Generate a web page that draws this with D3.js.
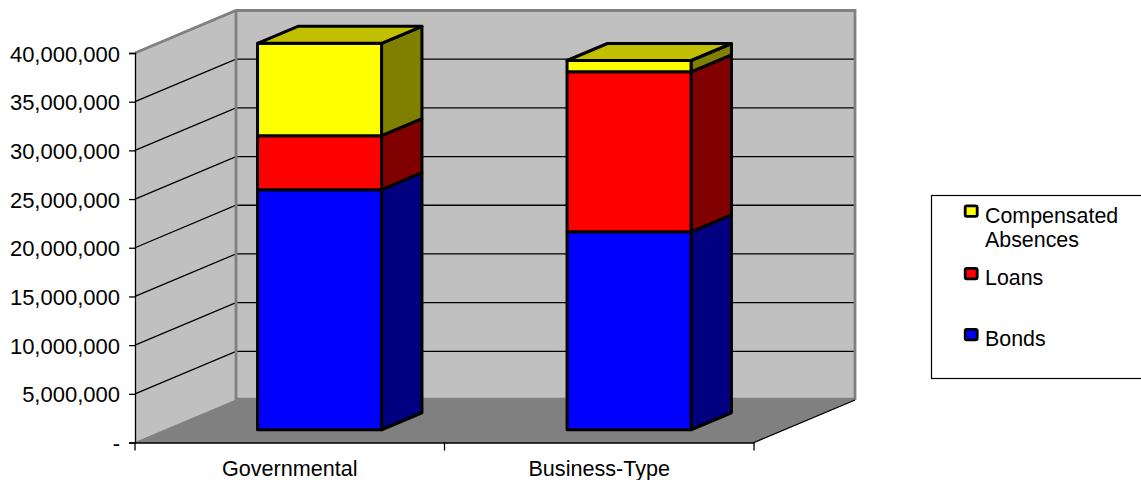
<!DOCTYPE html>
<html>
<head>
<meta charset="utf-8">
<script src="https://cdn.jsdelivr.net/npm/d3@7"></script>
<style>
  html, body { margin: 0; padding: 0; background: #fff; overflow: hidden; }
  text { font-family: "Liberation Sans", Arial, sans-serif; fill: #000; }
</style>
</head>
<body>
<script>
// chart data
var categories = ["Governmental", "Business-Type"];
var seriesNames = ["Bonds", "Loans", "Compensated Absences"];
var bonds = [24650000, 20330000];
var loans = [5550000, 16430000];
var absences = [9480000, 1160000];
var yTicks = [0, 5000000, 10000000, 15000000, 20000000, 25000000, 30000000, 35000000, 40000000];

var faceColors = ["#0000ff", "#ff0000", "#ffff00"];
var sideColors = ["#000080", "#800000", "#808000"];
var topColors = ["#0000c0", "#c00000", "#c0c000"];

var svg = d3.select("body").append("svg")
  .attr("width", 1141)
  .attr("height", 480);

var y = d3.scaleLinear().domain([0, 40000000]).range([442.5, 53]);
var x = d3.scaleBand().domain(categories).range([135, 754]).paddingInner(0).paddingOuter(0);

// depth goes from the front of the floor (0) to the back wall (1)
var depthX = d3.scaleLinear().domain([0, 1]).range([0, 101]);
var depthY = d3.scaleLinear().domain([0, 1]).range([0, -42.5]);

// project a point in chart space on to the page
function pt(px, value, depth) {
  return [px + depthX(depth), y(value) + depthY(depth)];
}
function poly(points) {
  return points.join(" ");
}

var x0 = x.range()[0], x1 = x.range()[1];
var top_v = y.domain()[1];

// back wall
svg.append("polygon")
  .attr("points", poly([pt(x0, 0, 1), pt(x1, 0, 1), pt(x1, top_v, 1), pt(x0, top_v, 1)]))
  .style("fill", "#c0c0c0");

// side wall
svg.append("polygon")
  .attr("points", poly([pt(x0, 0, 0), pt(x0, 0, 1), pt(x0, top_v, 1), pt(x0, top_v, 0)]))
  .style("fill", "#c0c0c0");

// floor
svg.append("polygon")
  .attr("points", poly([pt(x0, 0, 0), pt(x1, 0, 0), pt(x1, 0, 1), pt(x0, 0, 1)]))
  .style("fill", "#808080")
  .style("stroke", "#808080")
  .style("stroke-width", 1);

// gridlines, side wall then back wall
var gridTicks = yTicks.slice(1, -1);
svg.selectAll(".grid")
  .data(gridTicks)
  .enter().append("polyline")
  .attr("class", "grid")
  .attr("points", function(d) { return poly([pt(x0, d, 0), pt(x0, d, 1), pt(x1, d, 1)]); })
  .style("fill", "none")
  .style("stroke", "#000")
  .style("stroke-width", 1.3);

// gray wall edges
svg.append("polyline")
  .attr("points", poly([pt(x0, top_v, 0), pt(x0, top_v, 1), pt(x1, top_v, 1), pt(x1, 0, 1)]))
  .style("fill", "none")
  .style("stroke", "#808080")
  .style("stroke-width", 2.8);
svg.append("line")
  .attr("x1", pt(x0, 0, 1)[0]).attr("y1", pt(x0, 0, 1)[1])
  .attr("x2", pt(x0, top_v, 1)[0]).attr("y2", pt(x0, top_v, 1)[1])
  .style("stroke", "#808080")
  .style("stroke-width", 2.8);
svg.append("line")
  .attr("x1", pt(x0, 0, 1)[0]).attr("y1", pt(x0, 0, 1)[1] - 1)
  .attr("x2", pt(x1, 0, 1)[0]).attr("y2", pt(x1, 0, 1)[1] - 1)
  .style("stroke", "#808080")
  .style("stroke-width", 2.4);

// right edge of the floor
svg.append("line")
  .attr("x1", pt(x1, 0, 0)[0]).attr("y1", pt(x1, 0, 0)[1])
  .attr("x2", pt(x1, 0, 1)[0]).attr("y2", pt(x1, 0, 1)[1])
  .style("stroke", "#000")
  .style("stroke-width", 1.3);

// Add the y Axis
var yAxis = svg.append("g")
  .attr("transform", "translate(" + x0 + ",0)")
  .call(d3.axisLeft(y)
    .tickValues(yTicks)
    .tickSize(6)
    .tickPadding(9)
    .tickFormat(function(d) { return d === 0 ? "-" : d3.format(",")(d); }));
yAxis.selectAll("text").attr("dy", "0.37em");

// Add the x Axis, ticks sit on the band edges so they are drawn separately
var xAxis = svg.append("g")
  .attr("transform", "translate(0," + y(0) + ")")
  .call(d3.axisBottom(x).tickSize(0).tickPadding(18));

svg.selectAll(".xtick")
  .data([x0, x0 + x.bandwidth(), x1])
  .enter().append("line")
  .attr("class", "xtick")
  .attr("x1", function(d) { return d; })
  .attr("x2", function(d) { return d; })
  .attr("y1", y(0))
  .attr("y2", y(0) + 8)
  .style("stroke", "#000")
  .style("stroke-width", 1.3);

yAxis.selectAll("text").style("font-size", "22px");
xAxis.selectAll("text").style("font-size", "21.6px");
[yAxis, xAxis].forEach(function(a) {
  a.selectAll("line").style("stroke", "#000").style("stroke-width", 1.3);
  a.select(".domain").style("stroke", "#000").style("stroke-width", 1.3);
});

// stacked bars
var barWidth = 124;
var depthFront = 0.3, depthBack = 0.7;
var rows = categories.map(function(c, i) {
  return { category: c, bonds: bonds[i], loans: loans[i], absences: absences[i] };
});
var stack = d3.stack().keys(["bonds", "loans", "absences"])(rows);

var barStyle = function(sel) {
  sel.style("stroke", "#000")
    .style("stroke-width", 3)
    .style("stroke-linejoin", "round");
};

stack.forEach(function(layer, s) {
  layer.forEach(function(d) {
    var left = x(d.data.category) + (x.bandwidth() - barWidth) / 2 - 0.5;
    var right = left + barWidth;
    var g = svg.append("g").attr("class", "bar");

    g.append("polygon")
      .attr("points", poly([pt(right, d[0], depthFront), pt(right, d[0], depthBack), pt(right, d[1], depthBack), pt(right, d[1], depthFront)]))
      .style("fill", sideColors[s])
      .call(barStyle);

    g.append("polygon")
      .attr("points", poly([pt(left, d[0], depthFront), pt(right, d[0], depthFront), pt(right, d[1], depthFront), pt(left, d[1], depthFront)]))
      .style("fill", faceColors[s])
      .call(barStyle);

    // only the top series shows its lid
    if (s === stack.length - 1) {
      g.append("polygon")
        .attr("points", poly([pt(left, d[1], depthFront), pt(right, d[1], depthFront), pt(right, d[1], depthBack), pt(left, d[1], depthBack)]))
        .style("fill", topColors[s])
        .call(barStyle);
    }
  });
});

// legend
svg.append("rect")
  .attr("x", 931.5).attr("y", 195.5)
  .attr("width", 240).attr("height", 183)
  .style("fill", "#fff")
  .style("stroke", "#000")
  .style("stroke-width", 1.2);

var legendOrder = [2, 1, 0];
var legendY = d3.scalePoint().domain(legendOrder).range([211, 334.5]);

var legend = svg.selectAll(".legend")
  .data(legendOrder)
  .enter().append("g")
  .attr("class", "legend");

legend.append("rect")
  .attr("x", 965.2)
  .attr("y", function(d) { return (d === 1 ? 273.5 : legendY(d)) - 5.2; })
  .attr("width", 12)
  .attr("height", 10.5)
  .attr("rx", 1.5)
  .style("fill", function(d) { return faceColors[d]; })
  .style("stroke", "#000")
  .style("stroke-width", 2.8);

legend.append("text")
  .attr("x", 985)
  .attr("y", function(d) { return (d === 1 ? 285 : legendY(d) + 11.5); })
  .style("font-size", "21.4px")
  .each(function(d) {
    var words = seriesNames[d].split(" ");
    var t = d3.select(this);
    words.forEach(function(w, i) {
      t.append("tspan").attr("x", 985).attr("dy", i === 0 ? 0 : 24).text(w);
    });
  });
</script>
</body>
</html>
